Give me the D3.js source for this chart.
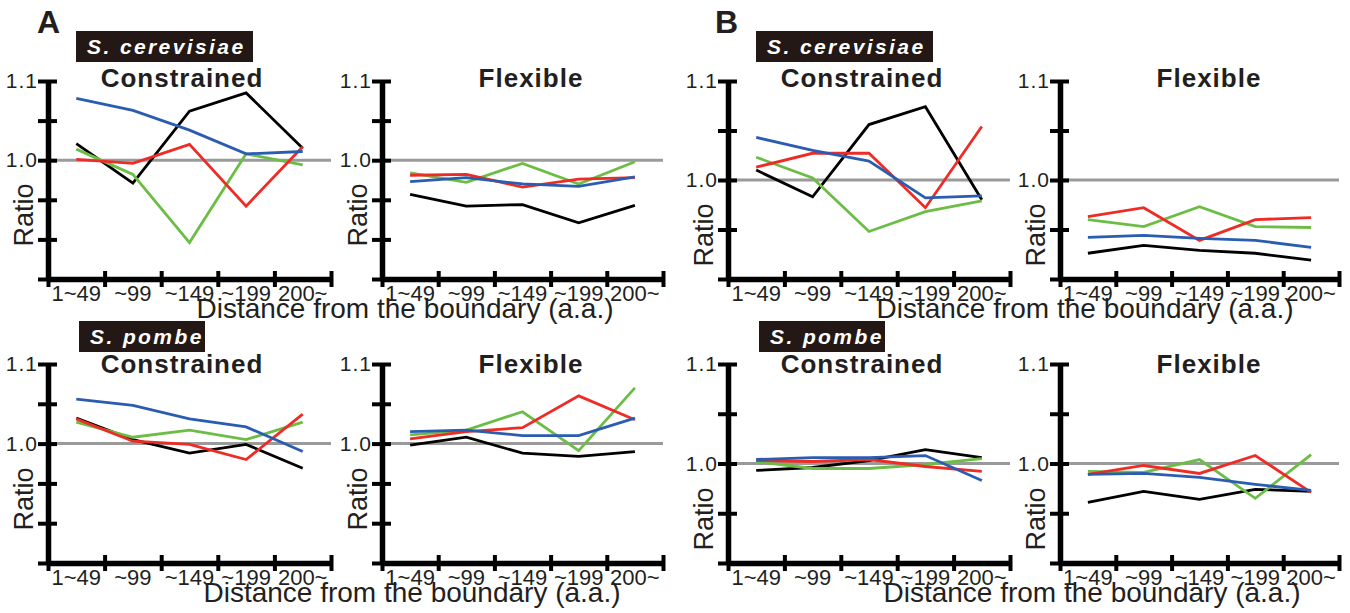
<!DOCTYPE html>
<meta charset="utf-8">
<style>
body { margin: 0; background: #fff; }
text { font-family: "Liberation Sans", Arial, sans-serif; fill: #231f20; }
.axis path, .axis line { stroke: #000; }
</style>
<body>
<svg width="1350" height="613"></svg>
<script src="https://d3js.org/d3.v7.min.js"></script>
<script>

// distance bins (a.a.)
var bins = ["1~49", "~99", "~149", "~199", "200~"];

// each panel: 4 series in order black, blue, red, green
var aCerConstrained = [
  [1.021, 0.971, 1.062, 1.085, 1.015],
  [1.078, 1.063, 1.038, 1.008, 1.011],
  [1.001, 0.996, 1.020, 0.942, 1.017],
  [1.014, 0.982, 0.896, 1.008, 0.994]
];
var aCerFlexible = [
  [0.957, 0.942, 0.944, 0.921, 0.943],
  [0.973, 0.978, 0.970, 0.967, 0.979],
  [0.981, 0.982, 0.966, 0.976, 0.978],
  [0.984, 0.972, 0.996, 0.970, 0.998]
];
var aPomConstrained = [
  [1.032, 1.005, 0.988, 0.999, 0.969],
  [1.056, 1.048, 1.031, 1.021, 0.990],
  [1.031, 1.003, 0.999, 0.980, 1.037],
  [1.027, 1.008, 1.017, 1.005, 1.027]
];
var aPomFlexible = [
  [0.998, 1.008, 0.988, 0.984, 0.990],
  [1.015, 1.017, 1.010, 1.010, 1.032],
  [1.006, 1.015, 1.020, 1.060, 1.030],
  [1.011, 1.017, 1.040, 0.991, 1.070]
];
var bCerConstrained = [
  [1.010, 0.983, 1.056, 1.074, 0.980],
  [1.043, 1.030, 1.019, 0.982, 0.984],
  [1.013, 1.027, 1.027, 0.972, 1.054],
  [1.023, 1.002, 0.948, 0.968, 0.979]
];
var bCerFlexible = [
  [0.926, 0.934, 0.929, 0.926, 0.919],
  [0.942, 0.944, 0.941, 0.939, 0.932],
  [0.963, 0.972, 0.939, 0.960, 0.962],
  [0.960, 0.953, 0.973, 0.953, 0.952]
];
var bPomConstrained = [
  [0.993, 0.996, 1.003, 1.014, 1.006],
  [1.004, 1.006, 1.006, 1.008, 0.983],
  [1.003, 1.002, 1.004, 0.997, 0.992],
  [1.002, 0.995, 0.995, 0.999, 1.005]
];
var bPomFlexible = [
  [0.961, 0.972, 0.964, 0.974, 0.972],
  [0.989, 0.990, 0.986, 0.979, 0.973],
  [0.989, 0.998, 0.990, 1.008, 0.971],
  [0.992, 0.991, 1.004, 0.965, 1.009]
];

var yTicksA = [0.85, 0.9, 0.95, 1.0, 1.05, 1.1];
var yTicksB = [0.9, 0.95, 1.0, 1.05, 1.1];
var species = ["S. cerevisiae", "S. pombe"];
var titles = ["Constrained", "Flexible"];

// style / layout
var colors = ["#000000", "#2a5db0", "#ee2b24", "#6cbd45"];
var drawOrder = [0, 3, 2, 1];
var colX = { A: [[48, 331], [382, 663]], B: [[728, 1010], [1060, 1339]] };
var rowY = [[81, 279], [364, 563]];
var figInfo = {
  A: { ticks: yTicksA, letterX: 37, ratioUp: 64, data: [[aCerConstrained, aCerFlexible], [aPomConstrained, aPomFlexible]] },
  B: { ticks: yTicksB, letterX: 715, ratioUp: 44, data: [[bCerConstrained, bCerFlexible], [bPomConstrained, bPomFlexible]] }
};
var boxW = [177, 126];

var svg = d3.select("svg");

["A", "B"].forEach(function(fig) {
  var info = figInfo[fig];

  svg.append("text")
      .attr("x", info.letterX).attr("y", 33)
      .style("font-size", "32px").style("font-weight", "bold")
      .text(fig);

  [0, 1].forEach(function(row) {
    var y0 = rowY[row][0], y1 = rowY[row][1];
    var left = colX[fig][0][0];

    // species label box
    var bx = left + (row === 0 ? 28 : 31), by = row === 0 ? 31 : 321;
    svg.append("rect")
        .attr("x", bx).attr("y", by).attr("width", boxW[row]).attr("height", 31)
        .attr("fill", "#231815");
    svg.append("text")
        .attr("x", bx + 11).attr("y", by + 22.5)
        .style("font-size", "21px").style("font-weight", "bold").style("font-style", "italic")
        .style("letter-spacing", "2.4px").style("fill", "#fff")
        .text(species[row]);

    // x axis title, shared by both panels of a row
    svg.append("text")
        .attr("x", left + 357 + row * 7).attr("y", y1 + 39)
        .attr("text-anchor", "middle")
        .style("font-size", "28px")
        .text("Distance from the boundary (a.a.)");

    [0, 1].forEach(function(col) {
      var x0 = colX[fig][col][0], x1 = colX[fig][col][1];
      var series = info.data[row][col];

      var y = d3.scaleLinear().domain([info.ticks[0], 1.1]).range([y1, y0]);
      var xb = d3.scaleBand().domain(bins).range([x0, x1]);
      var xl = d3.scaleLinear().domain([0, bins.length]).range([x0, x1]);

      var g = svg.append("g");

      // reference line at 1.0
      g.append("line")
          .attr("x1", x0).attr("x2", x1)
          .attr("y1", y(1)).attr("y2", y(1))
          .attr("stroke", "#9a9a9a").attr("stroke-width", 3);

      var line = d3.line()
          .x(function(d, i) { return xb(bins[i]) + xb.bandwidth() / 2; })
          .y(function(d) { return y(d); });

      drawOrder.forEach(function(k) {
        g.append("path")
            .attr("d", line(series[k]))
            .attr("fill", "none")
            .attr("stroke", colors[k])
            .attr("stroke-width", 2.8)
            .attr("stroke-linejoin", "miter");
      });

      // y axis
      var ya = g.append("g").attr("class", "axis")
          .attr("transform", "translate(" + x0 + ",0)")
          .call(d3.axisLeft(y).tickValues(info.ticks).tickSize(0).tickSizeOuter(0).tickPadding(10)
            .tickFormat(function(d) { return (d === 1 || d === 1.1) ? d.toFixed(1) : ""; }));
      ya.select(".domain").attr("stroke-width", 5.5);
      ya.selectAll(".tick line").attr("x1", -10).attr("x2", 9).attr("stroke-width", 4);
      ya.selectAll(".tick text").style("font-size", "21px").style("letter-spacing", "1px").attr("fill", null);

      // x axis: boundary ticks
      var xa = g.append("g").attr("class", "axis")
          .attr("transform", "translate(0," + y1 + ")")
          .call(d3.axisBottom(xl).tickValues(d3.range(bins.length + 1)).tickFormat("").tickSize(0).tickSizeOuter(0));
      xa.select(".domain").attr("stroke-width", 5.5);
      xa.selectAll(".tick line").attr("y1", -8).attr("y2", 8).attr("stroke-width", 4);

      // x axis: bin labels
      var xt = g.append("g")
          .attr("transform", "translate(0," + y1 + ")")
          .call(d3.axisBottom(xb).tickSize(0).tickPadding(6));
      xt.select(".domain").remove();
      xt.selectAll(".tick text").style("font-size", "22px").attr("fill", null);

      // Ratio label
      svg.append("text")
          .attr("transform", "translate(" + (x0 - 25) + "," + (y1 - info.ratioUp) + ") rotate(-90)")
          .attr("text-anchor", "middle").attr("dy", "0.36em")
          .style("font-size", "27px")
          .text("Ratio");

      // panel title
      svg.append("text")
          .attr("x", x0 + (col === 0 ? 134 : 149)).attr("y", row === 0 ? 87 : 373)
          .attr("text-anchor", "middle")
          .style("font-size", "26px").style("font-weight", "bold").style("letter-spacing", "1px")
          .text(titles[col]);
    });
  });
});

</script>
</body>
